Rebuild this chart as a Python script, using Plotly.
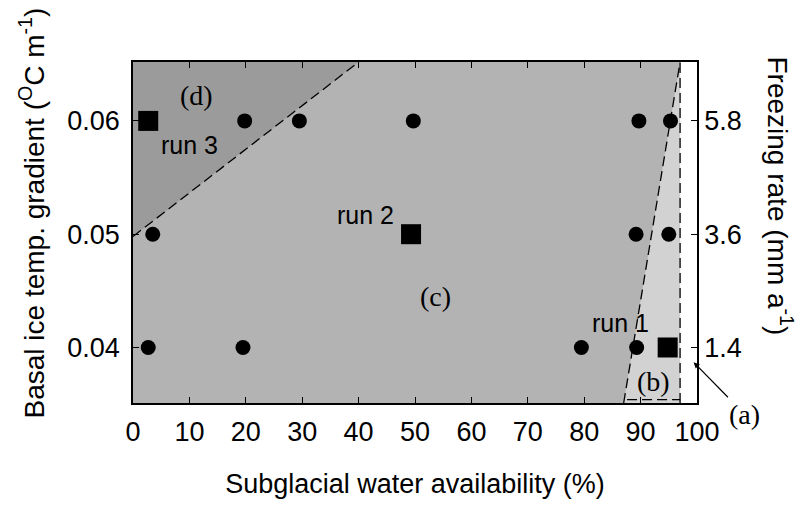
import plotly.graph_objects as go

# ---- data ----
xmin, xmax = 0, 100
ymin, ymax = 0.0351, 0.0652

# run markers (squares)
run_x = [94.8, 49.3, 2.7]
run_y = [0.04, 0.05, 0.06]

# other simulations (circles)
sim_x = [2.7, 19.5, 79.5, 89.3, 3.5, 89.2, 95.0, 19.8, 29.5, 49.7, 89.7, 95.3]
sim_y = [0.04, 0.04, 0.04, 0.04, 0.05, 0.05, 0.05, 0.06, 0.06, 0.06, 0.06, 0.06]

# regime boundaries
d_line_x = [0, 40]
d_line_y = [0.0498, 0.0652]
b_line_x = [87, 97]
b_line_y = [0.0351, 0.0652]
a_edge_x = 97
b_bottom_x = [87.6, 97]
b_bottom_y = 0.0354

# axis ticks
x_ticks = list(range(0, 101, 10))
grad_ticks = [0.04, 0.05, 0.06]
grad_labels = ["0.04", "0.05", "0.06"]
freeze_labels = ["1.4", "3.6", "5.8"]

SANS = "Liberation Sans, Arial, Helvetica, sans-serif"
SERIF = "Liberation Serif, Times New Roman, serif"

fig = go.Figure()

# region (c)
fig.add_trace(go.Scatter(x=[xmin, a_edge_x, a_edge_x, xmin], y=[ymin, ymin, ymax, ymax],
                         fill="toself", fillcolor="#b3b3b3", line=dict(width=0),
                         mode="lines", hoverinfo="skip", showlegend=False))
# region (d)
fig.add_trace(go.Scatter(x=[d_line_x[0], d_line_x[1], xmin], y=[d_line_y[0], d_line_y[1], ymax],
                         fill="toself", fillcolor="#9b9b9b", line=dict(width=0),
                         mode="lines", hoverinfo="skip", showlegend=False))
# region (b)
fig.add_trace(go.Scatter(x=[b_line_x[0], b_line_x[1], a_edge_x], y=[b_line_y[0], b_line_y[1], ymin],
                         fill="toself", fillcolor="#d2d2d2", line=dict(width=0),
                         mode="lines", hoverinfo="skip", showlegend=False))

dash = dict(color="black", width=1.3, dash="10px,5px")
fig.add_trace(go.Scatter(x=d_line_x, y=d_line_y, mode="lines", line=dash, showlegend=False, hoverinfo="skip"))
fig.add_trace(go.Scatter(x=b_line_x, y=b_line_y, mode="lines", line=dash, showlegend=False, hoverinfo="skip"))
fig.add_trace(go.Scatter(x=[a_edge_x, a_edge_x], y=[ymin, ymax], mode="lines", line=dash, showlegend=False, hoverinfo="skip"))
fig.add_trace(go.Scatter(x=b_bottom_x, y=[b_bottom_y, b_bottom_y], mode="lines", line=dash, showlegend=False, hoverinfo="skip"))

fig.add_trace(go.Scatter(x=sim_x, y=sim_y, mode="markers",
                         marker=dict(symbol="circle", size=15, color="black"), showlegend=False))
fig.add_trace(go.Scatter(x=run_x, y=run_y, mode="markers",
                         marker=dict(symbol="square", size=20, color="black"), showlegend=False))

# invisible trace to carry right axis
fig.add_trace(go.Scatter(x=[50, 50, 50], y=grad_ticks, yaxis="y2", mode="markers",
                         marker=dict(opacity=0), showlegend=False, hoverinfo="skip"))

anns = [
    dict(x=11.3, y=0.0622, text="(d)", font=dict(family=SERIF, size=28, color="black")),
    dict(x=53.7, y=0.04446, text="(c)", font=dict(family=SERIF, size=28, color="black")),
    dict(x=92.2, y=0.03697, text="(b)", font=dict(family=SERIF, size=28, color="black")),
    dict(x=10.1, y=0.0579, text="run 3", font=dict(family=SANS, size=25, color="black")),
    dict(x=41.3, y=0.0517, text="run 2", font=dict(family=SANS, size=25, color="black")),
    dict(x=86.5, y=0.04216, text="run 1", font=dict(family=SANS, size=25, color="black")),
]
for a in anns:
    a.update(xref="x", yref="y", showarrow=False)
    fig.add_annotation(**a)

fig.add_annotation(x=99.4, y=0.0387, xref="x", yref="y", text="(a)",
                   font=dict(family=SERIF, size=28, color="black"),
                   showarrow=True, arrowhead=2, arrowsize=1, arrowwidth=1.2,
                   arrowcolor="black", ax=51, ay=52)

# axis titles
fig.add_annotation(x=0, y=0.5, xref="paper", yref="paper", xanchor="center", yanchor="middle",
                   xshift=-101, yshift=19,
                   text="Basal ice temp. gradient (<sup>O</sup>C m<sup>-1</sup>)", textangle=-90,
                   showarrow=False, font=dict(family=SANS, size=28, color="black"))
fig.add_annotation(x=1, y=0.5, xref="paper", yref="paper", xanchor="center", yanchor="middle",
                   xshift=83, yshift=37,
                   text="Freezing rate (mm a<sup>-1</sup>)", textangle=90, showarrow=False,
                   font=dict(family=SANS, size=28, color="black"))

axis_common = dict(showgrid=False, zeroline=False, showline=True, linecolor="black", linewidth=1.5,
                   ticks="inside", ticklen=6, tickcolor="black", tickwidth=1,
                   tickfont=dict(family=SANS, size=27, color="black"))

fig.update_layout(
    width=803, height=506,
    margin=dict(l=133, r=106, t=62, b=95),
    paper_bgcolor="white", plot_bgcolor="white",
    xaxis=dict(range=[xmin, xmax], tickvals=x_ticks, mirror="ticks", ticklabelstandoff=4,
               title=dict(text="Subglacial water availability (%)",
                          font=dict(family=SANS, size=27, color="black"), standoff=28),
               **axis_common),
    yaxis=dict(range=[ymin, ymax], tickvals=grad_ticks, ticktext=grad_labels, mirror=True,
               ticklabelstandoff=6, **axis_common),
    yaxis2=dict(range=[ymin, ymax], overlaying="y", side="right", tickvals=grad_ticks,
                ticktext=freeze_labels, **axis_common),
)

fig.write_html("out.html", config={"displayModeBar": False},
               post_script="document.body.style.margin='0';")
